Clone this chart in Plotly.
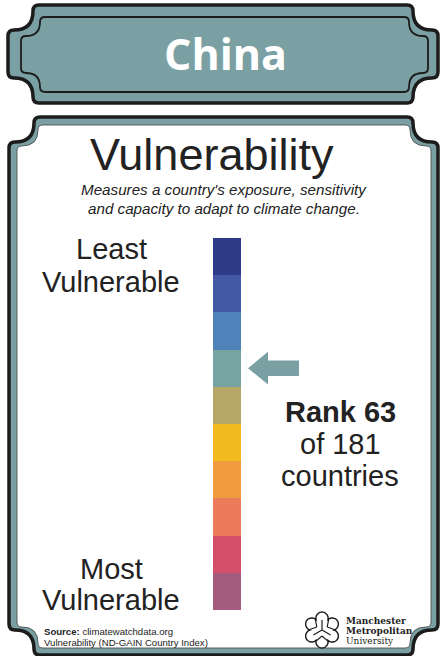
import math
import plotly.graph_objects as go

# ---------------- data ----------------
country = "China"
indicator = "Vulnerability"
rank = 63
total_countries = 181
band_labels = ["Band 1", "Band 2", "Band 3", "Band 4", "Band 5",
               "Band 6", "Band 7", "Band 8", "Band 9", "Band 10"]  # top (least) -> bottom (most)
band_values = [1, 1, 1, 1, 1, 1, 1, 1, 1, 1]
band_colors = ["#2e3a87", "#4459a6", "#4f82b8", "#77a3a3", "#b7a867",
               "#f2ba1e", "#f09b3e", "#ec7b5c", "#d4506a", "#a55a80"]

W, H = 441, 656
TEAL = "#7aa0a3"
DARK = "#1c1c1c"
TXT = "#222222"
FONT = "Liberation Sans, Arial, sans-serif"


def X(p):
    return p / W


def Y(p):
    return 1 - p / H


def notched(x0, y0, x1, y1, n, r):
    def P(x, y):
        return f"{X(x):.5f},{Y(y):.5f}"
    s = f"M {P(x0+n+r, y0)} L {P(x1-n-r, y0)} "
    s += f"Q {P(x1-n, y0)} {P(x1-n, y0+r)} "
    s += f"Q {P(x1-n, y0+n)} {P(x1-r, y0+n)} "
    s += f"Q {P(x1, y0+n)} {P(x1, y0+n+r)} "
    s += f"L {P(x1, y1-n-r)} "
    s += f"Q {P(x1, y1-n)} {P(x1-r, y1-n)} "
    s += f"Q {P(x1-n, y1-n)} {P(x1-n, y1-r)} "
    s += f"Q {P(x1-n, y1)} {P(x1-n-r, y1)} "
    s += f"L {P(x0+n+r, y1)} "
    s += f"Q {P(x0+n, y1)} {P(x0+n, y1-r)} "
    s += f"Q {P(x0+n, y1-n)} {P(x0+r, y1-n)} "
    s += f"Q {P(x0, y1-n)} {P(x0, y1-n-r)} "
    s += f"L {P(x0, y0+n+r)} "
    s += f"Q {P(x0, y0+n)} {P(x0+r, y0+n)} "
    s += f"Q {P(x0+n, y0+n)} {P(x0+n, y0+r)} "
    s += f"Q {P(x0+n, y0)} {P(x0+n+r, y0)} Z"
    return s


n_bands = len(band_values)
bases = [sum(band_values[i+1:]) for i in range(n_bands)]

fig = go.Figure()
fig.add_trace(go.Bar(
    x=[0.5] * n_bands, y=band_values, base=bases, width=1,
    marker=dict(color=band_colors, line=dict(width=0)),
    text=band_labels, hoverinfo="text", textposition="none",
    showlegend=False,
))

shapes = []
# top banner
shapes.append(dict(type="path", path=notched(8, 5, 438, 103, 25, 6), xref="paper", yref="paper",
                   fillcolor=TEAL, line=dict(color=DARK, width=3.5), layer="below"))
shapes.append(dict(type="path", path=notched(21, 17, 428, 92, 19, 5), xref="paper", yref="paper",
                   fillcolor="rgba(0,0,0,0)", line=dict(color=DARK, width=1.8), layer="below"))
# lower card
shapes.append(dict(type="path", path=notched(9, 117, 438, 655, 25, 6), xref="paper", yref="paper",
                   fillcolor=TEAL, line=dict(color=DARK, width=3.5), layer="below"))
shapes.append(dict(type="path", path=notched(17, 125, 431, 648, 21, 5), xref="paper", yref="paper",
                   fillcolor="white", line=dict(color="#444", width=0.8), layer="below"))

# arrow pointing at the band containing the rank
band_idx = math.ceil(rank / total_countries * n_bands) - 1
yc = n_bands - band_idx - 0.5
hh, sh = 0.44, 0.21
ax0, ax1, ax2 = X(248), X(268), X(299)
arrow = (f"M {ax0},{yc} L {ax1},{yc+hh} L {ax1},{yc+sh} L {ax2},{yc+sh} "
         f"L {ax2},{yc-sh} L {ax1},{yc-sh} L {ax1},{yc-hh} Z")
shapes.append(dict(type="path", path=arrow, xref="paper", yref="y",
                   fillcolor=TEAL, line=dict(width=0)))

# logo (stylised outline)
cx, cy, R = 322, 630, 18
pts = []
for k in range(121):
    t = 2 * math.pi * k / 120
    r = R * (0.66 + 0.34 * abs(math.cos(3 * t + math.pi / 2)) ** 0.7)
    pts.append((cx + r * math.cos(t), cy + r * math.sin(t)))
logo = "M " + " L ".join(f"{X(a):.5f},{Y(b):.5f}" for a, b in pts) + " Z"
shapes.append(dict(type="path", path=logo, xref="paper", yref="paper",
                   fillcolor="white", line=dict(color=DARK, width=1.4)))
inner = []
for k in range(3):
    t = 2 * math.pi * k / 3 - math.pi / 2
    inner.append(f"M {X(cx):.5f},{Y(cy):.5f} L {X(cx + 10*math.cos(t)):.5f},{Y(cy + 10*math.sin(t)):.5f}")
    t2 = t + math.pi / 3
    inner.append(f"M {X(cx + 6*math.cos(t2)):.5f},{Y(cy + 6*math.sin(t2)):.5f} "
                 f"L {X(cx + 13*math.cos(t2 - 0.5)):.5f},{Y(cy + 13*math.sin(t2 - 0.5)):.5f} "
                 f"M {X(cx + 6*math.cos(t2)):.5f},{Y(cy + 6*math.sin(t2)):.5f} "
                 f"L {X(cx + 13*math.cos(t2 + 0.5)):.5f},{Y(cy + 13*math.sin(t2 + 0.5)):.5f}")
shapes.append(dict(type="path", path=" ".join(inner), xref="paper", yref="paper",
                   line=dict(color=DARK, width=1.2)))


def ann(text, x, y, size, color=TXT, family=FONT, xanchor="center"):
    return dict(text=text, x=X(x), y=Y(y), xref="paper", yref="paper",
                xanchor=xanchor, yanchor="middle", showarrow=False,
                font=dict(size=size, color=color, family=family))


annotations = [
    ann(f"<b>{country}</b>", 225, 54, 43, color="white", family="Open Sans, sans-serif"),
    ann(indicator, 212, 154, 45),
    ann("<i>Measures a country's exposure, sensitivity</i>", 224, 189, 15.2),
    ann("<i>and capacity to adapt to climate change.</i>", 224, 208, 15.2),
    ann("Least", 111, 249, 29),
    ann("Vulnerable", 111, 282, 29),
    ann("Most", 111, 569, 29),
    ann("Vulnerable", 111, 600, 29),
    ann(f"<b>Rank {rank}</b>", 340, 412, 29),
    ann(f"of {total_countries}", 340, 444, 29),
    ann("countries", 340, 476, 29),
    ann("<b>Source:</b> climatewatchdata.org", 42, 631, 9.6, xanchor="left"),
    ann("Vulnerability (ND-GAIN Country Index)", 42, 642, 9.6, xanchor="left"),
    ann("<b>Manchester</b>", 344, 621, 9, family="DejaVu Serif, serif", xanchor="left"),
    ann("<b>Metropolitan</b>", 344, 631, 9, family="DejaVu Serif, serif", xanchor="left"),
    ann("University", 344, 641, 9, family="DejaVu Serif, serif", xanchor="left"),
]

fig.update_layout(
    width=W, height=H, margin=dict(l=0, r=0, t=0, b=0),
    paper_bgcolor="white", plot_bgcolor="rgba(0,0,0,0)",
    xaxis=dict(domain=[X(213), X(241)], range=[0, 1], visible=False, fixedrange=True),
    yaxis=dict(domain=[Y(610), Y(238)], range=[0, n_bands], visible=False, fixedrange=True),
    shapes=shapes, annotations=annotations, bargap=0,
)

fig.write_html("out.html", config={"displayModeBar": False},
               post_script="document.body.style.margin='0';document.body.style.overflow='hidden';")
